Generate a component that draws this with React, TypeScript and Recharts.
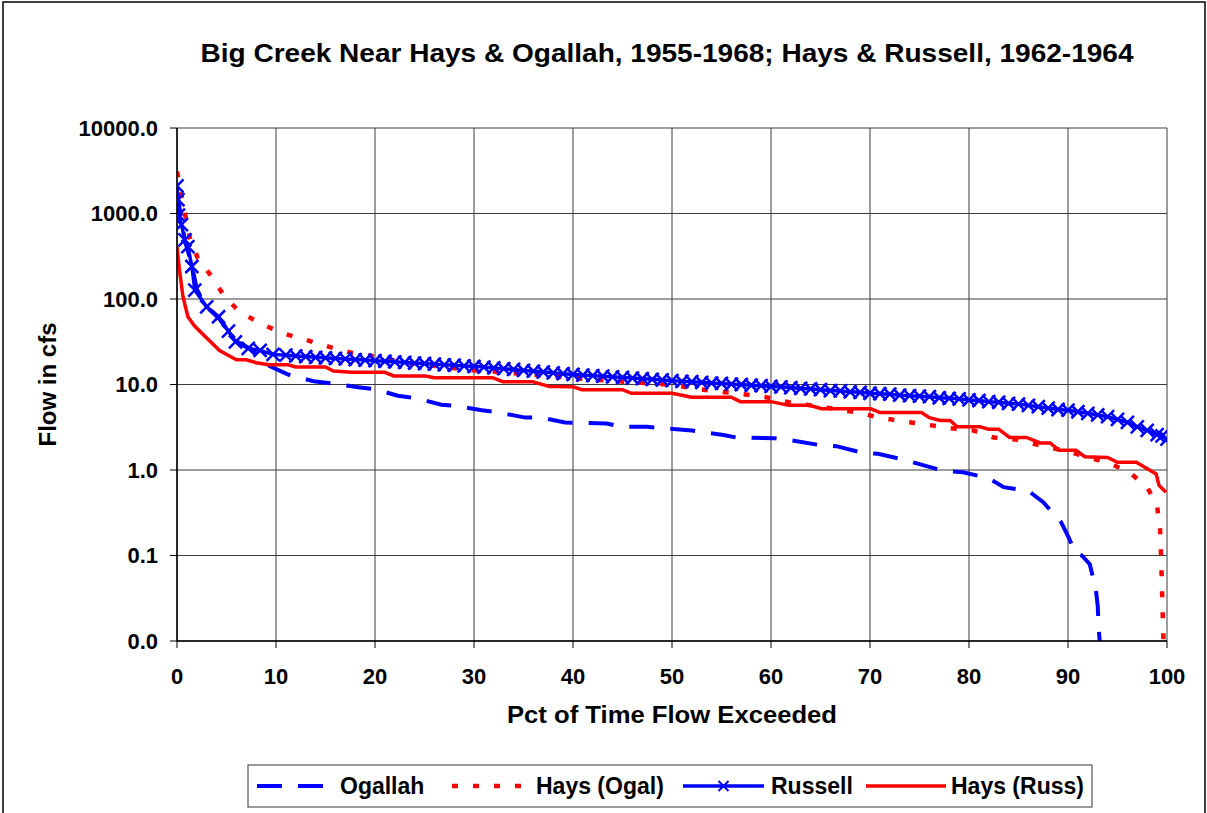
import React from 'react';
import { LineChart, Line, XAxis, YAxis, CartesianGrid, Label } from 'recharts';

const FONT = '"Liberation Sans", Arial, Helvetica, sans-serif';

const TITLE = 'Big Creek Near Hays & Ogallah, 1955-1968; Hays & Russell, 1962-1964';
const X_TITLE = 'Pct of Time Flow Exceeded';
const Y_TITLE = 'Flow in cfs';

const xTicks = [0, 10, 20, 30, 40, 50, 60, 70, 80, 90, 100];
const yTicks = [0.01, 0.1, 1, 10, 100, 1000, 10000];

// Ogallah (blue dashed)
const ogallahPct = [0, 0.4, 0.8, 1.5, 2, 3, 4.2, 5.2, 6, 7.2, 8.2, 9.4, 11.3, 13.8, 15.6, 18.3, 20, 22.3, 24.2, 26.7, 28.3, 30.8, 32.5, 35.2, 36.8, 39.2, 41, 43.4, 45, 47.5, 52, 55.2, 56.5, 60.4, 62.3, 64.9, 66.6, 69.3, 70.8, 73.4, 75, 77.4, 79.4, 82, 83.5, 86, 87.5, 89.3, 90.1, 90.8, 91.4, 92.2, 92.8, 93, 93.1, 93.2];
const ogallahFlow = [1800, 900, 480, 250, 130, 80, 60, 42, 32, 27, 22, 16.3, 13, 10.9, 10.3, 9.3, 8.8, 7.4, 6.9, 5.8, 5.6, 5.0, 4.7, 4.1, 4.1, 3.6, 3.55, 3.5, 3.2, 3.2, 2.9, 2.56, 2.4, 2.35, 2.2, 1.96, 1.9, 1.58, 1.55, 1.32, 1.17, 0.98, 0.94, 0.8, 0.63, 0.57, 0.42, 0.245, 0.16, 0.104, 0.1, 0.079, 0.041, 0.026, 0.014, 0.01];

// Hays (Ogal) (red dotted)
const haysOgalPct = [0, 0.4, 0.8, 1.3, 2.1, 3.5, 4.8, 6.3, 8.4, 10.6, 13.1, 15.4, 17.6, 19.9, 22.4, 27.4, 29.8, 32.2, 36.2, 38.5, 44, 50, 52.4, 54.6, 56.9, 59.5, 61.8, 65, 68.7, 71, 73.4, 75.7, 77.9, 80.4, 82.5, 84.9, 87.2, 90, 92, 94, 96.2, 98, 99, 99.3, 99.4, 99.5, 99.6, 99.65];
const haysOgalFlow = [3100, 1790, 1000, 520, 300, 183, 107, 71, 52, 40, 33, 27.5, 23.5, 21.3, 18.6, 15.8, 14.7, 14.1, 12.9, 12.3, 11, 9.9, 8.9, 8.3, 7.8, 7.1, 6.2, 5.5, 4.7, 4.1, 3.7, 3.4, 3.1, 2.9, 2.4, 2.26, 1.93, 1.65, 1.4, 1.23, 0.94, 0.63, 0.38, 0.2, 0.1, 0.04, 0.015, 0.01];

// Russell (blue solid with x markers)
const russellPct = [0, 0.1, 0.15, 0.45, 0.8, 1.1, 1.5, 1.8, 3, 4.2, 5.2, 5.9, 7.2, 8.4, 9.7,
  11, 12, 13, 14, 15, 16, 17, 18, 19, 20, 21, 22, 23, 24, 25, 26, 27, 28, 29, 30,
  31, 32, 33, 34, 35, 36, 37, 38, 39, 40, 41, 42, 43, 44, 45, 46, 47, 48, 49, 50,
  51, 52, 53, 54, 55, 56, 57, 58, 59, 60, 61, 62, 63, 64, 65, 66, 67, 68, 69, 70,
  71, 72, 73, 74, 75, 76, 77, 78, 79, 80, 81, 82, 83, 84, 85, 86, 87, 88, 89, 90,
  91, 92, 93, 94, 95, 96, 97, 98, 99, 99.5, 100];
const russellFlow = [2100, 1450, 960, 740, 490, 410, 240, 127, 81, 62, 42, 31.6, 26.5, 25, 22.5,
  22, 21.6, 21.2, 20.8, 20.5, 20.2, 19.9, 19.6, 19.3, 19.0, 18.7, 18.4, 18.1, 17.8, 17.6, 17.3, 17.0, 16.8, 16.5, 16.3,
  16.0, 15.6, 15.3, 15.0, 14.6, 14.3, 14.0, 13.7, 13.4, 13.1, 12.9, 12.7, 12.5, 12.3, 12.1, 11.9, 11.7, 11.5, 11.3, 11.1,
  10.9, 10.8, 10.6, 10.4, 10.3, 10.1, 10.0, 9.8, 9.7, 9.5, 9.4, 9.2, 9.0, 8.9, 8.7, 8.5, 8.4, 8.2, 8.1, 7.9,
  7.8, 7.7, 7.5, 7.4, 7.3, 7.2, 7.0, 6.9, 6.8, 6.6, 6.5, 6.3, 6.2, 6.0, 5.9, 5.7, 5.5, 5.3, 5.1, 5.0,
  4.8, 4.6, 4.4, 4.2, 3.9, 3.6, 3.2, 2.9, 2.6, 2.5, 2.3];

// Hays (Russ) (red solid)
const haysRussPct = [0, 0.25, 0.6, 1.1, 1.8, 3, 4.3, 6, 7, 8, 9.3, 11.2, 12, 15, 15.8, 17.6, 21, 21.9, 25.1, 26, 31.9, 32.9, 35.9, 37.6, 40, 40.9, 45, 45.9, 50, 52, 56, 56.9, 60, 61.8, 63.9, 65.1, 70.1, 71, 75.2, 76, 77.1, 78.1, 78.8, 81.1, 82, 83, 84.1, 85.8, 87.2, 88.2, 89.1, 90.8, 91.7, 94, 95, 96.9, 98.9, 99.2, 99.9];
const haysRussFlow = [410, 218, 107, 62, 48, 35, 25, 19.5, 19.5, 18, 17, 17, 16, 16, 14.4, 13.9, 13.9, 12.6, 12.6, 12, 12, 10.8, 10.8, 9.5, 9.4, 8.7, 8.7, 7.9, 7.9, 7.1, 7.1, 6.3, 6.3, 5.7, 5.7, 5.2, 5.2, 4.7, 4.7, 4.1, 3.8, 3.8, 3.2, 3.2, 3.0, 3.0, 2.4, 2.4, 2.07, 2.07, 1.7, 1.7, 1.43, 1.4, 1.23, 1.23, 0.9, 0.66, 0.55];

const toPoints = (xs: number[], ys: number[]) => xs.map((x, i) => ({ x, y: ys[i] }));

const ogallahData = toPoints(ogallahPct, ogallahFlow);
const haysOgalData = toPoints(haysOgalPct, haysOgalFlow);
const russellData = toPoints(russellPct, russellFlow);
const haysRussData = toPoints(haysRussPct, haysRussFlow);

const BLUE = '#0000FF';
const RED = '#FF0000';

const XMarker = (props: any) => {
  const { cx, cy, index } = props;
  if (cx == null || cy == null) return <g key={`m-${index}`} />;
  const s = 6.5;
  return (
    <path
      key={`m-${index}`}
      d={`M${cx - s},${cy - s}L${cx + s},${cy + s}M${cx - s},${cy + s}L${cx + s},${cy - s}`}
      stroke={BLUE}
      strokeWidth={2.5}
      fill="none"
    />
  );
};

const XTitle = (props: any) => {
  const vb = props.viewBox || {};
  return (
    <text x={vb.x + vb.width / 2} y={vb.y + 82} textAnchor="middle" fontFamily={FONT} fontWeight="bold" fontSize={24} fill="#000" textLength={330} lengthAdjust="spacingAndGlyphs">
      {X_TITLE}
    </text>
  );
};

const YTitle = (props: any) => {
  const vb = props.viewBox || {};
  const cx = 56;
  const cy = vb.y + vb.height / 2;
  return (
    <text x={cx} y={cy} transform={`rotate(-90, ${cx}, ${cy})`} textAnchor="middle" fontFamily={FONT} fontWeight="bold" fontSize={24} fill="#000">
      {Y_TITLE}
    </text>
  );
};

const tickStyle = { fill: '#000', fontSize: 22, fontWeight: 'bold', fontFamily: FONT } as any;

const legendItems = [
  { name: 'Ogallah', color: BLUE, dash: '25 16', x1: 257, x2: 326, tx: 340, marker: false, width: 4 },
  { name: 'Hays (Ogal)', color: RED, dash: '6 15', x1: 452, x2: 531, tx: 536, marker: false, width: 4.5 },
  { name: 'Russell', color: BLUE, dash: undefined, x1: 683, x2: 764, tx: 771, marker: true, width: 3.5 },
  { name: 'Hays (Russ)', color: RED, dash: undefined, x1: 866, x2: 946, tx: 951, marker: false, width: 3.5 },
];

export default function App() {
  return (
    <div style={{ position: 'absolute', left: 0, top: 0, width: 1207, height: 813, overflow: 'hidden', background: '#fff' }}>
      <LineChart width={1207} height={813} margin={{ top: 128, right: 40, bottom: 0, left: 0 }}>
        <CartesianGrid stroke="#3c3c3c" strokeWidth={1} />
        <XAxis
          type="number"
          dataKey="x"
          domain={[0, 100]}
          ticks={xTicks}
          interval={0}
          allowDataOverflow
          height={172}
          tickSize={7}
          tickMargin={20}
          tick={tickStyle}
          axisLine={{ stroke: '#000', strokeWidth: 1.5 }}
          tickLine={{ stroke: '#000' }}
        >
          <Label content={<XTitle />} />
        </XAxis>
        <YAxis
          type="number"
          scale="log"
          domain={[0.01, 10000]}
          ticks={yTicks}
          interval={0}
          allowDataOverflow
          width={177}
          tickSize={7}
          tickMargin={12}
          tickFormatter={(v: number) => v.toFixed(1)}
          tick={tickStyle}
          axisLine={{ stroke: '#000', strokeWidth: 1.5 }}
          tickLine={{ stroke: '#000' }}
        >
          <Label content={<YTitle />} />
        </YAxis>
        <Line data={ogallahData} dataKey="y" name="Ogallah" type="linear" stroke={BLUE} strokeWidth={4} strokeDasharray="25 16" dot={false} isAnimationActive={false} />
        <Line data={haysOgalData} dataKey="y" name="Hays (Ogal)" type="linear" stroke={RED} strokeWidth={4.5} strokeDasharray="6 15" dot={false} isAnimationActive={false} />
        <Line data={russellData} dataKey="y" name="Russell" type="linear" stroke={BLUE} strokeWidth={3.5} dot={XMarker} isAnimationActive={false} />
        <Line data={haysRussData} dataKey="y" name="Hays (Russ)" type="linear" stroke={RED} strokeWidth={3.5} dot={false} isAnimationActive={false} />
      </LineChart>
      <svg width={1207} height={813} style={{ position: 'absolute', left: 0, top: 0, pointerEvents: 'none' }}>
        <rect x={3} y={2} width={1202} height={840} fill="none" stroke="#000" strokeWidth={1.5} />
        <text x={667} y={62} textAnchor="middle" fontFamily={FONT} fontWeight="bold" fontSize={25} fill="#000" textLength={933} lengthAdjust="spacingAndGlyphs">
          {TITLE}
        </text>
        <rect x={248} y={765} width={844} height={42} fill="#fff" stroke="#555" strokeWidth={1.2} />
        {legendItems.map((it) => (
          <g key={it.name}>
            <line x1={it.x1} y1={786} x2={it.x2} y2={786} stroke={it.color} strokeWidth={it.width} strokeDasharray={it.dash} />
            {it.marker && (
              <path d={`M${(it.x1 + it.x2) / 2 - 5},${781}L${(it.x1 + it.x2) / 2 + 5},${791}M${(it.x1 + it.x2) / 2 - 5},${791}L${(it.x1 + it.x2) / 2 + 5},${781}`} stroke={BLUE} strokeWidth={2} fill="none" />
            )}
            <text x={it.tx} y={794} fontFamily={FONT} fontWeight="bold" fontSize={23} fill="#000">
              {it.name}
            </text>
          </g>
        ))}
      </svg>
    </div>
  );
}
